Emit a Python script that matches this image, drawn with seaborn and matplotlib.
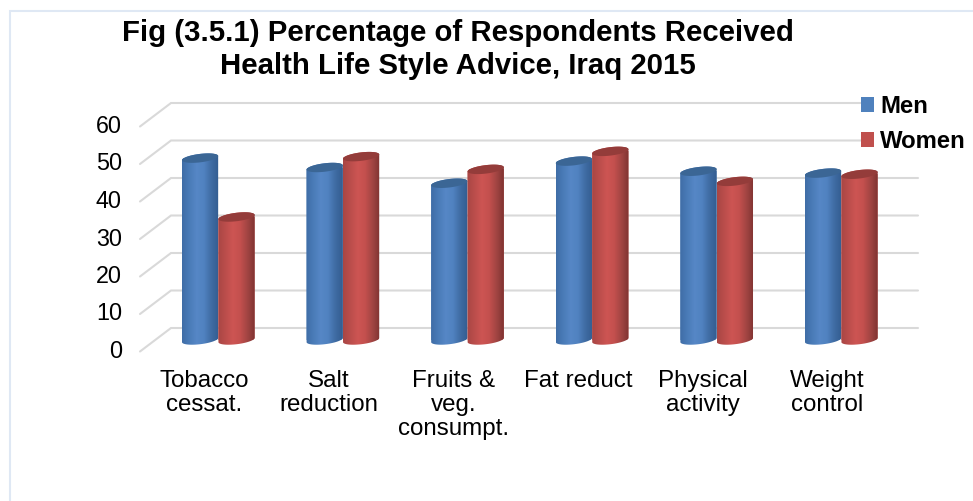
import numpy as np
import pandas as pd
import matplotlib
matplotlib.use("Agg")
import matplotlib.pyplot as plt
import seaborn as sns
from matplotlib.colors import LinearSegmentedColormap
from matplotlib.lines import Line2D
from matplotlib.patches import Polygon
from matplotlib.transforms import IdentityTransform, ScaledTranslation

categories = ["Tobacco\ncessat.", "Salt\nreduction", "Fruits &\nveg.\nconsumpt.",
              "Fat reduct", "Physical\nactivity", "Weight\ncontrol"]
men = [48.5, 46, 41.8, 47.7, 45, 44.5]
women = [32.8, 48.9, 45.5, 50.3, 42.3, 44.2]
y_ticks = [0, 10, 20, 30, 40, 50, 60]
title = "Fig (3.5.1) Percentage of Respondents Received\nHealth Life Style Advice, Iraq 2015"

sns.set_theme(style="white")
plt.rcParams["font.family"] = ["Liberation Sans", "DejaVu Sans"]

W, H = 973, 501
fig = plt.figure(figsize=(W / 100, H / 100), dpi=100, facecolor="white")
# frame of the chart area: only its top and left edges show
fig.add_artist(Line2D([9.5 / W, 9.5 / W, 1], [0, 1 - 11 / H, 1 - 11 / H], transform=fig.transFigure,
                      color="#dfe8f4", lw=1.5, solid_joinstyle="miter"))

# axes placed in pixels: value 0 at y=340, 3.75 px per unit, 124.6 px per category
px_unit = 3.75
left, right = 156.0, 156.0 + 6 * 124.6
y0 = 340.0
vmin, vmax = -4, 62
bottom_px = y0 - vmin * px_unit
top_px = y0 - vmax * px_unit
ax = fig.add_axes([left / W, 1 - bottom_px / H, (right - left) / W, (bottom_px - top_px) / H])
ax.patch.set_alpha(0)

df = pd.DataFrame({
    "cat": categories * 2,
    "val": men + women,
    "sex": ["Men"] * 6 + ["Women"] * 6,
})
base_colors = {"Men": "#4f81bd", "Women": "#c0504d"}
sns.barplot(data=df, x="cat", y="val", hue="sex", palette=base_colors, width=0.585, gap=0,
            saturation=1, ax=ax, zorder=3, linewidth=0, legend=True)
ax.set_xlim(-0.5, 5.5)
ax.set_ylim(vmin, vmax)
ax.set_xlabel("")
ax.set_ylabel("")
sns.despine(ax=ax, left=True, bottom=True)

# perspective gridlines
for v in y_ticks:
    _, yp = ax.transData.transform((0, v))
    ax.plot([140, 171, 918], [yp - 11.5, yp + 12, yp + 12], transform=IdentityTransform(),
            color="#d9d9d9", lw=1.5, clip_on=False, zorder=1, solid_joinstyle="miter")

# cylinder shading
cmaps = {
    "Men": LinearSegmentedColormap.from_list("m", ["#3f6da6", "#4a7cb8", "#5687c6", "#5082c0", "#3f6ca3", "#335d90"]),
    "Women": LinearSegmentedColormap.from_list("w", ["#a84644", "#bb4e4b", "#cd5553", "#c4504e", "#a24543", "#7f3331"]),
}
caps = {"Men": "#3b6695", "Women": "#943c3a"}
grad = np.linspace(0, 1, 128).reshape(1, -1)
tilt = np.deg2rad(7)
cap_b = 4.2


def ell(cx, cy, a, t):
    x = a * np.cos(t)
    y = cap_b * np.sin(t)
    return np.column_stack([cx + x * np.cos(tilt) - y * np.sin(tilt),
                            cy + x * np.sin(tilt) + y * np.cos(tilt)])


bars = [p for p in ax.patches if p.get_width() > 0 and p.get_height() > 0]
for i, bar in enumerate(bars):
    sex = "Men" if i < 6 else "Women"
    x0, w, h = bar.get_x(), bar.get_width(), bar.get_height()
    (pl, pb), (pr, pt) = ax.transData.transform([(x0, 0), (x0 + w, h)])
    cx, a = (pl + pr) / 2, (pr - pl) / 2
    low = ell(cx, pb, a, np.linspace(np.pi, 2 * np.pi, 40))
    up = ell(cx, pt, a, np.linspace(0, np.pi, 40))
    body = Polygon(np.vstack([low, up]), closed=True, transform=IdentityTransform())
    z = 3 + i % 6 * 0.1 + (0.05 if sex == "Women" else 0)
    im = ax.imshow(grad, extent=(x0, x0 + w, vmin, h + 3), aspect="auto", cmap=cmaps[sex], zorder=z, origin="lower")
    im.set_clip_path(body)
    bar.set_clip_path(body)
    cap = Polygon(ell(cx, pt, a, np.linspace(0, 2 * np.pi, 80)), closed=True,
                  transform=IdentityTransform(), facecolor=caps[sex], edgecolor="none", zorder=z + 0.01, clip_on=False)
    ax.add_patch(cap)
ax.set_xlim(-0.5, 5.5)
ax.set_ylim(vmin, vmax)

# ticks
ax.set_yticks(y_ticks)
ax.tick_params(axis="y", length=0, pad=24.5, labelsize=16.8, labelcolor="black")
ax.tick_params(axis="x", length=0, pad=11, labelsize=17.4, labelcolor="black")
for lab in ax.get_yticklabels():
    lab.set_transform(lab.get_transform() + ScaledTranslation(0, -9 / 100, fig.dpi_scale_trans))
for lab in ax.get_xticklabels():
    lab.set_transform(lab.get_transform() + ScaledTranslation(-14 / 100, 0, fig.dpi_scale_trans))
    lab.set_linespacing(1.1)

# title
fig.text(458 / W, 1 - 49.5 / H, title, ha="center", va="center", fontsize=21.2,
         fontweight="bold", color="black", linespacing=1.22)

# legend
handles, labels = ax.get_legend_handles_labels()
leg = ax.legend(handles, labels, loc="upper left", bbox_to_anchor=(861 / W, 1 - 95 / H),
                bbox_transform=fig.transFigure, frameon=True, facecolor="white", edgecolor="none",
                framealpha=1, borderpad=0, borderaxespad=0, handlelength=0.56, handleheight=0.56,
                handletextpad=0.24, labelspacing=0.5, prop={"size": 17.2, "weight": "bold"})
leg.set_zorder(5)
for t in leg.get_texts():
    t.set_color("black")

fig.savefig("out.png", dpi=100)
